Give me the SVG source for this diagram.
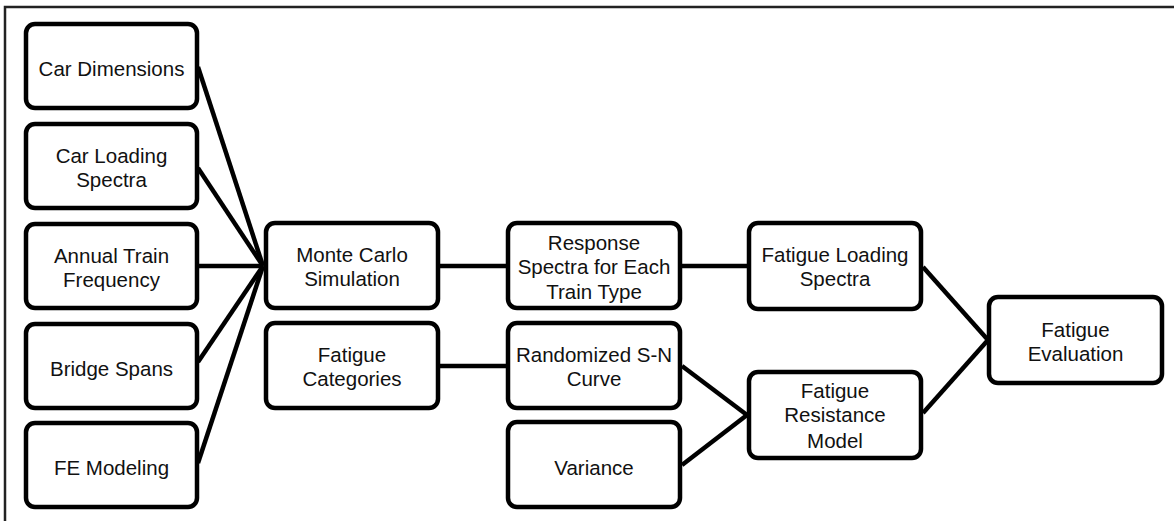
<svg xmlns="http://www.w3.org/2000/svg" width="1174" height="521" viewBox="0 0 1174 521">
<style>
.box{fill:#fff;stroke:#000;stroke-width:4.5}
.lbl{font-family:"Liberation Sans",Arial,sans-serif;font-size:20.5px;fill:#111;text-anchor:middle}
.con{stroke:#000;stroke-width:4.5;fill:none;stroke-linecap:butt}
</style>
<rect width="1174" height="521" fill="#fff"/>
<path d="M5 521 V7 H1174" fill="none" stroke="#222" stroke-width="2.5"/>
<g id="connectors">
<line class="con" x1="198" y1="67" x2="263" y2="266"/>
<line class="con" x1="198" y1="168" x2="263" y2="266"/>
<line class="con" x1="198" y1="266" x2="263" y2="266"/>
<line class="con" x1="198" y1="362" x2="263" y2="266"/>
<line class="con" x1="198" y1="463" x2="263" y2="266"/>
<line class="con" x1="440" y1="266" x2="506" y2="266"/>
<line class="con" x1="682" y1="266" x2="747" y2="266"/>
<line class="con" x1="440" y1="366" x2="506" y2="366"/>
<line class="con" x1="682" y1="366" x2="747" y2="415"/>
<line class="con" x1="682" y1="465" x2="747" y2="415"/>
<line class="con" x1="923" y1="267" x2="988" y2="340"/>
<line class="con" x1="923" y1="413" x2="988" y2="340"/>
</g>
<g id="car-dimensions"><rect class="box" x="26" y="24" width="171" height="84" rx="9"/><text class="lbl" x="111.5" y="76">Car Dimensions</text></g>
<g id="car-loading"><rect class="box" x="26" y="124" width="171" height="84" rx="9"/><text class="lbl" x="111.5" y="163">Car Loading</text><text class="lbl" x="111.5" y="187">Spectra</text></g>
<g id="annual-train"><rect class="box" x="26" y="224" width="171" height="84" rx="9"/><text class="lbl" x="111.5" y="263">Annual Train</text><text class="lbl" x="111.5" y="287">Frequency</text></g>
<g id="bridge-spans"><rect class="box" x="26" y="324" width="171" height="84" rx="9"/><text class="lbl" x="111.5" y="376">Bridge Spans</text></g>
<g id="fe-modeling"><rect class="box" x="26" y="423" width="171" height="84" rx="9"/><text class="lbl" x="111.5" y="475">FE Modeling</text></g>
<g id="monte-carlo"><rect class="box" x="266" y="223" width="172" height="85" rx="9"/><text class="lbl" x="352" y="262">Monte Carlo</text><text class="lbl" x="352" y="286">Simulation</text></g>
<g id="fatigue-categories"><rect class="box" x="266" y="323" width="172" height="85" rx="9"/><text class="lbl" x="352" y="362">Fatigue</text><text class="lbl" x="352" y="386">Categories</text></g>
<g id="response-spectra"><rect class="box" x="508" y="223" width="172" height="85" rx="9"/><text class="lbl" x="594" y="250">Response</text><text class="lbl" x="594" y="274">Spectra for Each</text><text class="lbl" x="594" y="299">Train Type</text></g>
<g id="randomized-sn"><rect class="box" x="508" y="323" width="172" height="85" rx="9"/><text class="lbl" x="594" y="362">Randomized S-N</text><text class="lbl" x="594" y="386">Curve</text></g>
<g id="variance"><rect class="box" x="508" y="422" width="172" height="85" rx="9"/><text class="lbl" x="594" y="475">Variance</text></g>
<g id="fatigue-loading"><rect class="box" x="749" y="223" width="172" height="86" rx="9"/><text class="lbl" x="835" y="262">Fatigue Loading</text><text class="lbl" x="835" y="286">Spectra</text></g>
<g id="fatigue-resistance"><rect class="box" x="749" y="372" width="172" height="86" rx="9"/><text class="lbl" x="835" y="398">Fatigue</text><text class="lbl" x="835" y="422">Resistance</text><text class="lbl" x="835" y="448">Model</text></g>
<g id="fatigue-evaluation"><rect class="box" x="989" y="297" width="173" height="86" rx="9"/><text class="lbl" x="1075.5" y="337">Fatigue</text><text class="lbl" x="1075.5" y="361">Evaluation</text></g>
</svg>
